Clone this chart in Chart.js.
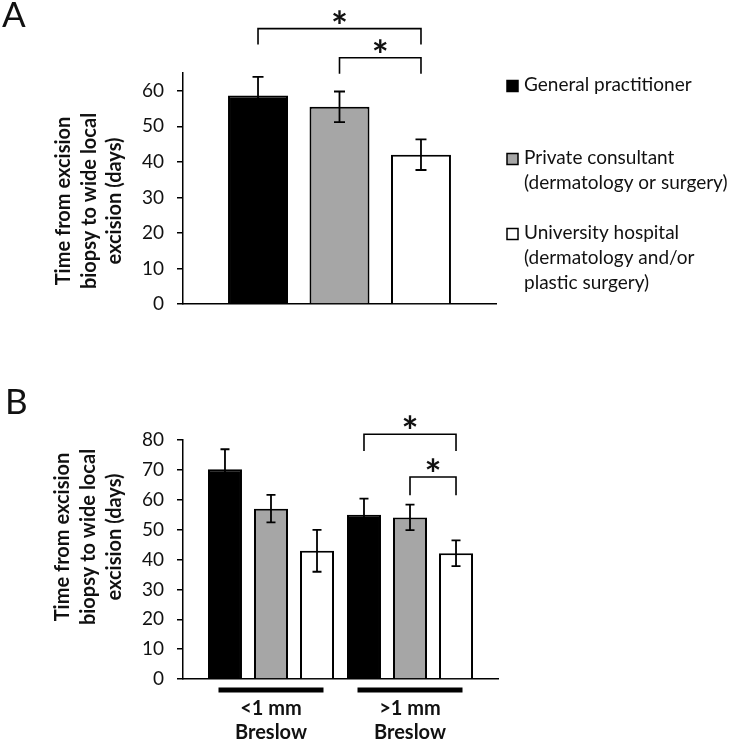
<!DOCTYPE html>
<html><head><meta charset="utf-8">
<script src="https://cdn.jsdelivr.net/npm/chart.js@4/dist/chart.umd.min.js"></script>
<style>
html,body{margin:0;padding:0;background:#fff;}
#wrap{position:relative;width:737px;height:743px;overflow:hidden;background:#fff;}
canvas{position:absolute;left:0;}
</style></head><body>
<div id="wrap">
<canvas id="cA" width="737" height="350" style="top:0;width:737px;height:350px"></canvas>
<canvas id="cB" width="737" height="393" style="top:350px;width:737px;height:393px"></canvas>
</div>
<script>
// ---------- data ----------
const seriesNames = [
  ["General practitioner"],
  ["Private consultant", "(dermatology or surgery)"],
  ["University hospital", "(dermatology and/or", "plastic surgery)"]
];
const seriesColors = ['#000000', '#a6a6a6', '#ffffff'];
const yTitle = ["Time from excision", "biopsy to wide local", "excision (days)"];

// Panel A
const categoriesA = ['All patients'];
const meanA_GP = [58.7];
const meanA_PC = [55.5];
const meanA_UH = [42.0];
const errA_GP = [5.2];
const errA_PC = [4.3];
const errA_UH = [4.3];
const yTicksA = [0, 10, 20, 30, 40, 50, 60];
const yMaxA = 65;
// significance: [category, series from, series to, bracket level, tip level]
const sigA = [[0, 0, 2, 77.5, 73.0], [0, 1, 2, 69.3, 64.8]];

// Panel B
const categoriesB = [['<1 mm', 'Breslow'], ['>1 mm', 'Breslow']];
const meanB_GP = [70.2, 55.0];
const meanB_PC = [57.0, 54.1];
const meanB_UH = [42.9, 42.1];
const errB_GP = [6.7, 5.4];
const errB_PC = [4.6, 4.3];
const errB_UH = [7.0, 4.3];
const yTicksB = [0, 10, 20, 30, 40, 50, 60, 70, 80];
const yMaxB = 80;
const sigB = [[1, 0, 2, 81.9, 76.3], [1, 1, 2, 67.6, 61.5]];

// ---------- helpers ----------
const FONT = 'Lato, "Open Sans", sans-serif';
const TXT = '#111';

const overlay = {
  id: 'overlay',
  afterDatasetsDraw(chart, args, o) {
    const ctx = chart.ctx, y = chart.scales.y;
    ctx.save();
    ctx.strokeStyle = '#000';
    ctx.lineWidth = o.errWidth;
    chart.data.datasets.forEach((ds, di) => {
      const meta = chart.getDatasetMeta(di);
      meta.data.forEach((bar, i) => {
        const raw = ds.data[i];
        const v = (typeof raw === 'object') ? raw.y : raw;
        const e = ds.errors[i];
        const yt = y.getPixelForValue(v + e), yb = y.getPixelForValue(v - e);
        ctx.beginPath();
        ctx.moveTo(bar.x, yt); ctx.lineTo(bar.x, yb);
        ctx.moveTo(bar.x - o.cap, yt); ctx.lineTo(bar.x + o.cap, yt);
        ctx.moveTo(bar.x - o.cap, yb); ctx.lineTo(bar.x + o.cap, yb);
        ctx.stroke();
      });
    });
    // significance brackets
    o.sig.forEach(([cat, s1, s2, lvl, tip]) => {
      const x1 = chart.getDatasetMeta(s1).data[cat].x;
      const x2 = chart.getDatasetMeta(s2).data[cat].x;
      const yl = y.getPixelForValue(lvl), yt = y.getPixelForValue(tip);
      ctx.lineWidth = 1.6;
      ctx.beginPath();
      ctx.moveTo(x1, yt); ctx.lineTo(x1, yl); ctx.lineTo(x2, yl); ctx.lineTo(x2, yt);
      ctx.stroke();
      ctx.font = 'bold 40px ' + FONT;
      ctx.fillStyle = TXT;
      ctx.textAlign = 'center';
      ctx.textBaseline = 'alphabetic';
      const m = ctx.measureText('*');
      const cy = yl - o.starGap;
      ctx.fillText('*', (x1 + x2) / 2, cy + (m.actualBoundingBoxAscent - m.actualBoundingBoxDescent) / 2);
    });
    ctx.restore();
  },
  afterDraw(chart, args, o) {
    const ctx = chart.ctx;
    ctx.save();
    ctx.fillStyle = TXT;
    // panel letter
    ctx.font = '35px ' + FONT;
    ctx.textAlign = 'left'; ctx.textBaseline = 'alphabetic';
    ctx.fillText(o.letter, o.letterX, o.letterY);
    // y title
    ctx.font = 'bold 20px ' + FONT;
    ctx.translate(o.titleX, o.titleY);
    ctx.rotate(-Math.PI / 2);
    ctx.textAlign = 'center'; ctx.textBaseline = 'middle';
    yTitle.forEach((t, k) => ctx.fillText(t, 0, k * o.titleStep));
    ctx.restore();

    // group underlines
    if (o.underline) {
      const xs = chart.scales.x;
      ctx.save();
      ctx.fillStyle = '#000';
      xs.ticks.forEach(t => {
        const cx = xs.getPixelForValue(t.value);
        ctx.fillRect(cx - o.underline.half, chart.chartArea.bottom + o.underline.gap, 2 * o.underline.half, o.underline.h);
      });
      ctx.restore();
    }
    // legend
    if (o.legend) {
      const L = o.legend;
      ctx.save();
      ctx.font = '19px ' + FONT;
      ctx.textAlign = 'left'; ctx.textBaseline = 'middle';
      chart.data.datasets.forEach((ds, i) => {
        const y0 = L.ys[i];
        ctx.fillStyle = ds.backgroundColor;
        ctx.fillRect(L.boxX, y0 + 1 - L.box / 2, L.box, L.box);
        ctx.strokeStyle = '#000'; ctx.lineWidth = 1.5;
        ctx.strokeRect(L.boxX, y0 + 1 - L.box / 2, L.box, L.box);
        ctx.fillStyle = TXT;
        seriesNames[i].forEach((line, k) => ctx.fillText(line, L.textX, y0 + k * L.step));
      });
      ctx.restore();
    }
  }
};

function yScale(max, ticks, width) {
  return {
    type: 'linear', min: 0, max: max,
    afterBuildTicks: s => { s.ticks = ticks.map(v => ({ value: v })); },
    afterFit: s => { s.width = width; },
    border: { display: true, color: '#000', width: 1.5 },
    grid: { display: true, drawOnChartArea: false, drawTicks: true, tickLength: 6, color: '#000', lineWidth: 1.5 },
    ticks: { color: TXT, padding: 13, font: { family: FONT, size: 19 } }
  };
}

function build() {
  // ----- Panel A -----
  new Chart(document.getElementById('cA'), {
    type: 'bar',
    data: {
      labels: categoriesA,
      datasets: [
        { label: seriesNames[0].join(' '), data: meanA_GP, errors: errA_GP, backgroundColor: seriesColors[0] },
        { label: seriesNames[1].join(' '), data: meanA_PC, errors: errA_PC, backgroundColor: seriesColors[1] },
        { label: seriesNames[2].join(' '), data: meanA_UH, errors: errA_UH, backgroundColor: seriesColors[2] }
      ].map(d => Object.assign(d, { borderColor: '#000', borderWidth: 2, categoryPercentage: 0.781, barPercentage: 0.736 }))
    },
    options: {
      responsive: false, animation: false, events: [], devicePixelRatio: 1,
      layout: { padding: { left: 0, top: 73, right: 241, bottom: 0 } },
      plugins: {
        legend: { display: false }, tooltip: { enabled: false },
        overlay: {
          errWidth: 1.8, cap: 5.5, starGap: 12, sig: sigA,
          letter: 'A', letterX: 2, letterY: 27,
          titleX: 64, titleY: 201, titleStep: 25.5,
          legend: { ys: [85, 158, 233], boxX: 507, box: 11, textX: 524, step: 25 }
        }
      },
      scales: {
        x: {
          type: 'category', offset: true,
          afterFit: s => { s.height = 46; },
          border: { display: true, color: '#000', width: 1.5 },
          grid: { display: false, drawTicks: false },
          ticks: { display: false }
        },
        y: yScale(yMaxA, yTicksA, 183)
      }
    },
    plugins: [overlay]
  });

  // ----- Panel B -----
  new Chart(document.getElementById('cB'), {
    type: 'bar',
    data: {
      datasets: [
        { label: seriesNames[0].join(' '), data: meanB_GP.map((v, i) => ({ x: i, y: v })), errors: errB_GP, backgroundColor: seriesColors[0] },
        { label: seriesNames[1].join(' '), data: meanB_PC.map((v, i) => ({ x: i, y: v })), errors: errB_PC, backgroundColor: seriesColors[1] },
        { label: seriesNames[2].join(' '), data: meanB_UH.map((v, i) => ({ x: i, y: v })), errors: errB_UH, backgroundColor: seriesColors[2] }
      ].map(d => Object.assign(d, { borderColor: '#000', borderWidth: 2, categoryPercentage: 0.993, barPercentage: 0.739 }))
    },
    options: {
      responsive: false, animation: false, events: [], devicePixelRatio: 1,
      layout: { padding: { left: 0, top: 90, right: 239, bottom: 0 } },
      plugins: {
        legend: { display: false }, tooltip: { enabled: false },
        overlay: {
          errWidth: 1.8, cap: 4.5, starGap: 12, sig: sigB,
          letter: 'B', letterX: 5, letterY: 64,
          titleX: 63, titleY: 187, titleStep: 26,
          underline: { half: 52.5, gap: 8.5, h: 5 }
        }
      },
      scales: {
        x: {
          type: 'linear', offset: false, min: -0.633, max: 1.633,
          afterBuildTicks: s => { s.ticks = categoriesB.map((c, i) => ({ value: i })); },
          afterFit: s => { s.height = 64; },
          border: { display: true, color: '#000', width: 1.5 },
          grid: { display: false, drawTicks: false, offset: false },
          ticks: {
            color: TXT, padding: 18, autoSkip: false, maxRotation: 0,
            font: { family: FONT, size: 20, weight: 'bold', lineHeight: 1.2 },
            callback: v => categoriesB[v]
          }
        },
        y: yScale(yMaxB, yTicksB, 183)
      }
    },
    plugins: [overlay]
  });
}

const fontLoads = ['19px Lato', 'bold 20px Lato', 'bold 40px Lato', '35px Lato'].map(f => document.fonts.load(f).catch(() => null));
Promise.all(fontLoads).then(build, build);
</script>
</body></html>
